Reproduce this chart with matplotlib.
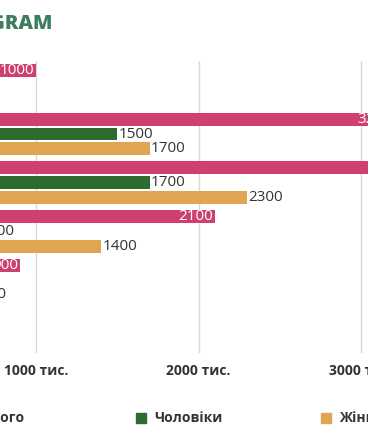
import matplotlib.pyplot as plt
from matplotlib.patches import Rectangle

# data (thousands)
groups = ['1', '2', '3', '4', '5', '6']
total = [1000, 3200, 3500, 2100, 900, 300]
men = [400, 1500, 1700, 700, 500, 100]
women = [500, 1700, 2300, 1400, 650, 200]
series_names = ['Всього', 'Чоловіки', 'Жінки']
colors = ['#ce416e', '#2d6b30', '#e0a552']
xticks = [1000, 2000, 3000, 4000]
title = 'INSTAGRAM'

W, H = 368, 445
plt.rcParams['font.family'] = ['Open Sans', 'DejaVu Sans']

fig = plt.figure(figsize=(W / 100, H / 100), dpi=100)

# axes in pixels: value 0 at x=-126.5, 1000 units = 162.5 px, y from 61 to 353
x0, scale = -126.5, 0.1625
xmax = 4000
top, bot = 61, 353
ax = fig.add_axes([x0 / W, 1 - bot / H, xmax * scale / W, (bot - top) / H])

ypos = list(range(len(groups)))
off = 15 / 48.7
bh = 13 / 48.7
for i, (vals, col) in enumerate(zip([total, men, women], colors)):
    ys = [y + (i - 1) * off for y in ypos]
    ax.barh(ys, vals, height=bh, color=col, zorder=3)
    for y, v in zip(ys, vals):
        if i == 0:
            ax.annotate(str(v), (v, y), xytext=(-1.2, 0), textcoords='offset points',
                        ha='right', va='center', color='white', fontsize=11, zorder=4)
        else:
            ax.annotate(str(v), (v, y), xytext=(1, 0), textcoords='offset points',
                        ha='left', va='center', color='#333333', fontsize=11, zorder=4)

ax.set_xlim(0, xmax)
ax.set_ylim(len(groups) - 0.5, -0.5)
ax.set_xticks(xticks)
ax.set_xticklabels([f'{v} тис.' for v in xticks], fontsize=10, fontweight='bold', color='#333333')
ax.set_yticks([])
ax.tick_params(axis='x', length=0, pad=8)
ax.grid(axis='x', color='#d9d9d9', linewidth=1, zorder=0)
for s in ax.spines.values():
    s.set_visible(False)

# title, only its end is inside the picture
fig.text(53 / W, 1 - 24 / H, title, ha='right', va='center', fontsize=14.5,
         fontweight='heavy', color='#3e7d62')

# legend row
leg_sq = [-42, 136, 321]
for name, col, sx in zip(series_names, colors, leg_sq):
    fig.patches.append(Rectangle((sx / W, 1 - 423 / H), 10 / W, 10 / H,
                                 transform=fig.transFigure, color=col))
    fig.text((sx + 18) / W, 1 - 418 / H, name, ha='left', va='center',
             fontsize=10, fontweight='bold', color='#333333')

fig.savefig('out.png', dpi=100)
